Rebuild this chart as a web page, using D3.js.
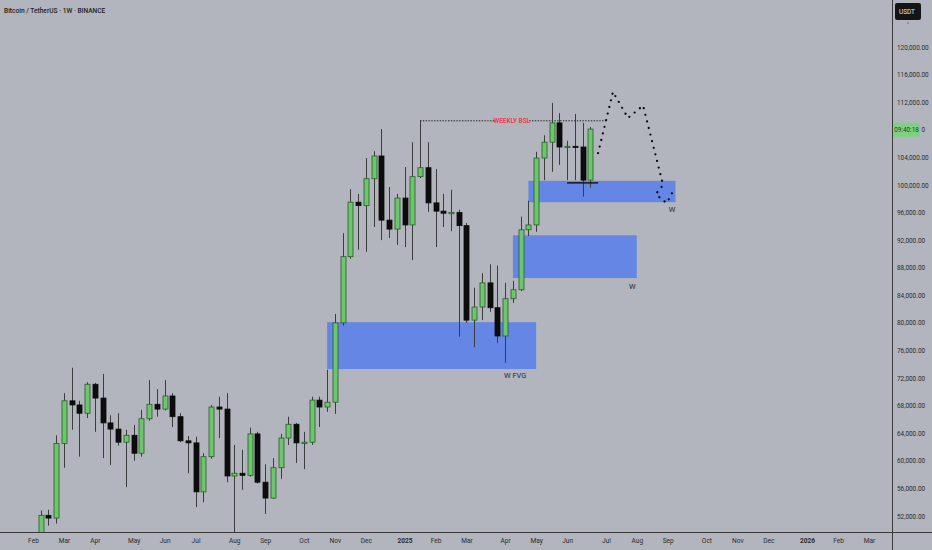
<!DOCTYPE html>
<html><head><meta charset="utf-8">
<script src="https://cdn.jsdelivr.net/npm/d3@7"></script>
<style>
html,body{margin:0;padding:0;background:#b2b5bd;}
svg{display:block;font-family:Roboto,"Noto Sans",sans-serif;}
</style></head>
<body><svg id="c" width="932" height="550"></svg>
<script>
const weeks = ["2024-02-12","2024-02-19","2024-02-26","2024-03-04","2024-03-11","2024-03-18","2024-03-25","2024-04-01","2024-04-08","2024-04-15","2024-04-22","2024-04-29","2024-05-06","2024-05-13","2024-05-20","2024-05-27","2024-06-03","2024-06-10","2024-06-17","2024-06-24","2024-07-01","2024-07-08","2024-07-15","2024-07-22","2024-07-29","2024-08-05","2024-08-12","2024-08-19","2024-08-26","2024-09-02","2024-09-09","2024-09-16","2024-09-23","2024-09-30","2024-10-07","2024-10-14","2024-10-21","2024-10-28","2024-11-04","2024-11-11","2024-11-18","2024-11-25","2024-12-02","2024-12-09","2024-12-16","2024-12-23","2024-12-30","2025-01-06","2025-01-13","2025-01-20","2025-01-27","2025-02-03","2025-02-10","2025-02-17","2025-02-24","2025-03-03","2025-03-10","2025-03-17","2025-03-24","2025-03-31","2025-04-07","2025-04-14","2025-04-21","2025-04-28","2025-05-05","2025-05-12","2025-05-19","2025-05-26","2025-06-02","2025-06-09","2025-06-16","2025-06-23"];
const open  = [48300,52100,51700,62500,68700,68100,66900,71100,69100,65500,64600,62700,63700,61100,66100,68200,67500,69400,66400,62900,62600,55500,60600,67800,67500,57800,58200,57900,63900,56900,54600,59000,63300,65300,62600,62700,68800,67800,68500,80000,89600,97500,97000,100900,104200,94900,93600,98100,94200,101200,102500,97400,96200,95900,96000,94100,80400,82300,85800,82200,78100,83500,84800,93500,94200,103900,106200,109000,105500,105600,105500,100700];
const high  = [52800,52900,63700,69800,73500,68700,71400,71300,72600,66600,66900,64500,65200,67400,71700,70400,71700,69800,66900,63600,63500,61100,68100,69300,69800,62300,61600,64800,64200,59500,60400,63900,66400,65500,64200,69300,69300,73200,81300,93000,99400,98700,103900,104900,108100,99700,98700,102600,106200,109400,106200,102300,98700,99300,96400,94500,85100,87200,88500,88300,85800,86100,95400,97700,104800,107200,111900,110400,106400,110300,109000,108400];
const low   = [47700,50600,50900,59000,64500,60600,66200,64200,60400,59400,62200,56200,60000,60600,65800,66400,67300,64900,62700,58200,53300,54000,60300,63300,56900,49000,55800,57700,56700,52300,54500,57400,62300,59700,58800,62300,64900,67100,66800,79600,89300,90600,90300,93900,92000,92300,91300,91000,89100,101000,96100,91000,93900,93300,78000,80000,76500,80400,81600,77100,74200,82900,84600,92600,93200,100700,101900,102900,100700,100700,98300,99600];
const close = [52100,51700,62500,68700,68100,66900,71100,69100,65500,64600,62700,63700,61100,66100,68200,67500,69400,66400,62900,62600,55500,60600,67800,67500,57800,58200,57900,63900,56900,54600,59000,63300,65300,62600,62700,68800,67800,68500,80000,89600,97500,97000,100900,104200,94900,93600,98100,94200,101200,102500,97400,96200,95900,96000,94100,80400,82300,85800,82200,78100,83500,84800,93500,94200,103900,106200,109000,105500,105600,105500,100700,108100];

const priceTicks = [52000,56000,60000,64000,68000,72000,76000,80000,84000,88000,92000,96000,100000,104000,112000,116000,120000];
const monthTickDates = ["2024-02-05","2024-03-04","2024-04-01","2024-05-06","2024-06-03","2024-07-01","2024-08-05","2024-09-02","2024-10-07","2024-11-04","2024-12-02","2025-01-06","2025-02-03","2025-03-03","2025-04-07","2025-05-05","2025-06-02","2025-07-07","2025-08-04","2025-09-01","2025-10-06","2025-11-03","2025-12-01","2026-01-05","2026-02-02","2026-03-02"];
const monthTickLabels = ["Feb","Mar","Apr","May","Jun","Jul","Aug","Sep","Oct","Nov","Dec","2025","Feb","Mar","Apr","May","Jun","Jul","Aug","Sep","Oct","Nov","Dec","2026","Feb","Mar"];

const zoneStart = ["2024-10-28","2025-04-14","2025-04-28"];
const zoneEnd   = ["2025-05-05","2025-08-04","2025-09-08"];
const zoneLow   = [73300,86500,97500];
const zoneHigh  = [80100,92700,100600];

const projDates  = ["2025-06-30","2025-07-13T12:00","2025-07-27","2025-08-09T17:00","2025-08-27T19:00","2025-08-21T10:00","2025-08-26T22:00","2025-08-31T08:00","2025-09-03T02:00","2025-09-06T14:00"];
const projPrices = [104600,113500,109700,111500,100000,98700,97800,97400,98300,99300];

const bslStart = "2025-01-20", bslEnd = "2025-07-07", bslPrice = 109300, bslLabel = "WEEKLY BSL", bslLabelDate = "2025-04-13";
const rangeStart = "2025-06-02", rangeEnd = "2025-06-30", rangePrice = 100300;
const labelTexts = ["W FVG","W","W"];
const labelDates = ["2025-04-16","2025-07-31","2025-09-05"];
const labelPrices = [72000,84900,96100];
const countdownText = "09:40:18", countdownPrice = 108000;

const W = 932, H = 550, plotR = 892, plotB = 532;
const svg = d3.select("#c");
const P = s => new Date(s.length > 10 ? s + "Z" : s + "T00:00:00Z");

const x = d3.scaleUtc().domain([P("2024-02-05"), P("2026-03-02")]).range([33, 869]);
const y = d3.scaleLinear().domain([52000, 120000]).range([516, 47]);

svg.append("rect").attr("width", W).attr("height", H).attr("fill", "#b2b5bd");
svg.append("defs").append("clipPath").attr("id", "plot").append("rect").attr("x", 0).attr("y", 0).attr("width", plotR).attr("height", plotB);
const g = svg.append("g").attr("clip-path", "url(#plot)");

// zones
g.selectAll("rect.zone").data(zoneStart).join("rect").attr("class", "zone")
  .attr("x", (d, i) => x(P(d))).attr("width", (d, i) => x(P(zoneEnd[i])) - x(P(d)))
  .attr("y", (d, i) => y(zoneHigh[i])).attr("height", (d, i) => y(zoneLow[i]) - y(zoneHigh[i]))
  .attr("fill", "#5e82e8").attr("opacity", 0.92);

// BSL dotted line with label gap
const bx = x(P(bslLabelDate)), by = y(bslPrice);
g.append("line").attr("x1", x(P(bslStart))).attr("x2", x(P(bslEnd))).attr("y1", by).attr("y2", by)
  .attr("stroke", "#1d1d1d").attr("stroke-width", 1).attr("stroke-dasharray", "1.4,1.4");
g.append("rect").attr("x", bx - 17).attr("y", by - 4).attr("width", 34).attr("height", 8).attr("fill", "#b2b5bd");
g.append("text").attr("x", bx).attr("y", by + 2.3).attr("text-anchor", "middle")
  .attr("font-size", 6.4).attr("font-weight", 600).attr("fill", "#e8394a").text(bslLabel);

// candles
const bw = 5;
const cg = g.append("g");
weeks.forEach((d, i) => {
  const cx = Math.round(x(P(d))) + 0.5;
  const up = close[i] >= open[i];
  cg.append("line").attr("x1", cx).attr("x2", cx).attr("y1", y(high[i])).attr("y2", y(low[i]))
    .attr("stroke", "#3c3c3c").attr("stroke-width", 1);
  const top = y(Math.max(open[i], close[i])), bot = y(Math.min(open[i], close[i]));
  cg.append("rect").attr("x", cx - bw / 2).attr("width", bw).attr("y", top).attr("height", Math.max(1.2, bot - top))
    .attr("fill", up ? "#6cc66c" : "#0c0c0c").attr("stroke", up ? "#2c5b2c" : "#0c0c0c").attr("stroke-width", 0.8);
});

// range line
g.append("line").attr("x1", x(P(rangeStart))).attr("x2", x(P(rangeEnd))).attr("y1", y(rangePrice)).attr("y2", y(rangePrice))
  .attr("stroke", "#111").attr("stroke-width", 1.4);

// projection
const line = d3.line().x((d, i) => x(P(d))).y((d, i) => y(projPrices[i]));
g.append("path").attr("d", line(projDates)).attr("fill", "none").attr("stroke", "#0a0a0a")
  .attr("stroke-width", 2.3).attr("stroke-linecap", "round").attr("stroke-dasharray", "0,6.8");

// labels
g.selectAll("text.lab").data(labelTexts).join("text").attr("class", "lab")
  .attr("x", (d, i) => x(P(labelDates[i]))).attr("y", (d, i) => y(labelPrices[i]))
  .attr("text-anchor", "middle").attr("font-size", 7.5).attr("fill", "#2a2a2a").text(d => d);

// axes
svg.append("line").attr("x1", 0).attr("x2", W).attr("y1", plotB + 0.5).attr("y2", plotB + 0.5).attr("stroke", "#3a3a3a").attr("stroke-width", 1);
svg.append("line").attr("x1", plotR + 0.5).attr("x2", plotR + 0.5).attr("y1", 0).attr("y2", H).attr("stroke", "#3a3a3a").attr("stroke-width", 1);

const ya = svg.append("g").attr("transform", `translate(${plotR},0)`)
  .call(d3.axisRight(y).tickValues(priceTicks).tickSize(0).tickPadding(5).tickFormat(d3.format(",.2f")));
ya.select(".domain").remove();
ya.selectAll("text").attr("font-size", 6.4).attr("fill", "#2b2b2b").attr("font-family", "Roboto,sans-serif");

const xa = svg.append("g").attr("transform", `translate(0,${plotB})`)
  .call(d3.axisBottom(x).tickValues(monthTickDates.map(P)).tickSize(0).tickPadding(6).tickFormat((d, i) => monthTickLabels[i]));
xa.select(".domain").remove();
xa.selectAll("text").attr("font-size", 6.6).attr("fill", "#2b2b2b").attr("font-family", "Roboto,sans-serif")
  .attr("font-weight", (d, i) => /^\d{4}$/.test(monthTickLabels[i]) ? 700 : 400);

// countdown label (covers the 108,000.00 tick)
const cy = y(countdownPrice);
svg.append("rect").attr("x", 893).attr("y", cy - 7).attr("width", 27).attr("height", 14).attr("fill", "#7fd17f");
svg.append("text").attr("x", 906.5).attr("y", cy + 2.3).attr("text-anchor", "middle").attr("font-size", 6.4).attr("fill", "#2b3b2b").text(countdownText);
svg.append("text").attr("x", 921.5).attr("y", cy + 2.3).attr("font-size", 6.4).attr("fill", "#2b2b2b").text("0");

// USDT box
svg.append("rect").attr("x", 895).attr("y", 3).attr("width", 26).attr("height", 17).attr("rx", 2).attr("fill", "#141414");
svg.append("text").attr("x", 899).attr("y", 14).attr("font-size", 6.4).attr("fill", "#e8e8e8").text("USDT");
svg.append("circle").attr("cx", 908).attr("cy", 23).attr("r", 0.7).attr("fill", "#555");

// title
svg.append("text").attr("x", 4).attr("y", 13).attr("font-size", 6.6).attr("fill", "#1e1e1e").attr("font-weight", 500).text("Bitcoin / TetherUS · 1W · BINANCE");
</script></body></html>
